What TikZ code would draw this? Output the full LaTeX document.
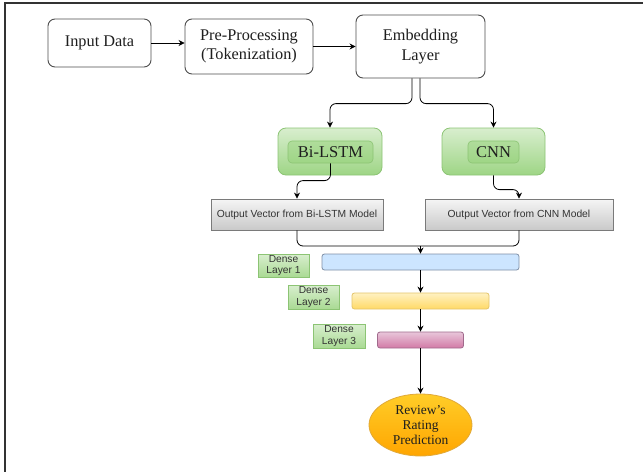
\documentclass[tikz,border=0pt]{standalone}
\usepackage{fontspec}
\setmainfont{Liberation Serif}
\newfontfamily\labelsans{Liberation Sans}
\usetikzlibrary{arrows.meta,shapes.geometric,calc}

\definecolor{frameline}{HTML}{333333}
\definecolor{boxline}{HTML}{4D4D4D}
\definecolor{greenline}{HTML}{8CC474}
\definecolor{greentop}{HTML}{D8EECE}
\definecolor{greenbot}{HTML}{9ED585}
\definecolor{grayline}{HTML}{7A7A7A}
\definecolor{graytop}{HTML}{F5F5F5}
\definecolor{graybot}{HTML}{C9C9C9}
\definecolor{blueline}{HTML}{7F8FA6}
\definecolor{bluefill}{HTML}{CCE5FF}
\definecolor{yelline}{HTML}{E3C46A}
\definecolor{yeltop}{HTML}{FFF1C2}
\definecolor{yelbot}{HTML}{FFD966}
\definecolor{pinkline}{HTML}{A06A8C}
\definecolor{pinktop}{HTML}{E8C6DA}
\definecolor{pinkbot}{HTML}{D27AA6}
\definecolor{orline}{HTML}{E0A93A}
\definecolor{ortop}{HTML}{FFCD28}
\definecolor{orbot}{HTML}{FFA500}
\definecolor{inktext}{HTML}{1E1E1E}
\definecolor{softtext}{HTML}{333333}

\tikzset{
  flowbox/.style={draw=boxline, line width=0.9pt, rounded corners=7pt, fill=white,
    align=center, text=inktext, inner sep=0pt,
    font=\fontsize{16.3}{19.5}\selectfont},
  greenouter/.style={draw=greenline, line width=0.8pt, rounded corners=8pt,
    top color=greentop, bottom color=greenbot, inner sep=0pt},
  greeninner/.style={draw=greenline, line width=0.6pt, rounded corners=4pt,
    top color=greenbot!70!greentop, bottom color=greenbot, inner sep=0pt,
    text=inktext, font=\fontsize{16.5}{19}\selectfont},
  outbox/.style={draw=grayline, line width=0.8pt, top color=graytop, bottom color=graybot,
    inner sep=0pt, text=softtext, font=\labelsans\fontsize{10.3}{12}\selectfont},
  denselabel/.style={draw=greenline, line width=0.6pt, top color=greentop, bottom color=greenbot!80!greentop,
    inner sep=0pt, align=center, text=softtext, font=\labelsans\fontsize{10.2}{11.7}\selectfont},
  barbox/.style={line width=0.8pt, rounded corners=2.5pt, inner sep=0pt},
  link/.style={draw=black, line width=0.8pt, rounded corners=6pt,
    -{Stealth[length=6pt,width=6pt]}},
  plainlink/.style={draw=black, line width=0.8pt, rounded corners=6pt},
}

\begin{document}
\begin{tikzpicture}[x=1pt,y=-1pt]
\useasboundingbox (0,0) rectangle (643,472);

% page frame (top and left edges)
\draw[frameline, line width=1.3pt] (643,3) -- (5,3) -- (5,472);

% input pipeline
\node[flowbox, minimum width=103pt, minimum height=48pt] (inp) at (99.5,43) {Input Data};
\node[flowbox, minimum width=128pt, minimum height=55pt] (pre) at (249,46.5) {Pre-Processing\\(Tokenization)};
\node[flowbox, minimum width=129pt, minimum height=63pt] (emb) at (420.5,46.5) {Embedding\\Layer};

\draw[link] (inp.east) -- (pre.west |- inp.east);
\draw[link] (pre.east) -- (emb.west |- pre.east);

% model branches
\node[greenouter, minimum width=104pt, minimum height=47pt] (gbl) at (330,151.5) {};
\node[greeninner, minimum width=85pt, minimum height=22pt] (ibl) at (330.5,152) {Bi-LSTM};
\node[greenouter, minimum width=103pt, minimum height=47pt] (gcnn) at (493.5,151.5) {};
\node[greeninner, minimum width=51pt, minimum height=22pt] (icnn) at (493.5,152) {CNN};

\coordinate (embL) at ($(emb.south)+(-8.5,0)$);
\coordinate (embR) at ($(emb.south)+(-0.5,0)$);
\draw[link] (embL) |- ($(gbl.north)+(0,-24)$) -- (gbl.north);
\draw[link] (embR) |- ($(gcnn.north)+(0,-24)$) -- (gcnn.north);

% branch outputs
\node[outbox, minimum width=172pt, minimum height=31pt] (obl) at (297,214.5) {Output Vector from Bi-LSTM Model};
\node[outbox, minimum width=188pt, minimum height=31pt] (ocnn) at (519,214.5) {Output Vector from CNN Model};

\draw[link] (ibl.south) |- ($(obl.north)+(0,-18)$) -- (obl.north);
\draw[link] (gcnn.south) |- ($(ocnn.north)+(0,-9)$) -- (ocnn.north);

% dense stack
\node[barbox, draw=blueline, fill=bluefill, minimum width=197pt, minimum height=16pt] (d1) at (420.5,262) {};
\node[barbox, draw=yelline, top color=yeltop, bottom color=yelbot, minimum width=137pt, minimum height=16pt] (d2) at (420.5,301) {};
\node[barbox, draw=pinkline, top color=pinktop, bottom color=pinkbot, minimum width=86pt, minimum height=16pt] (d3) at (420.5,340) {};

\node[denselabel, minimum width=51pt, minimum height=23pt] (l1) at (283.5,265.5) {Dense\\Layer 1};
\node[denselabel, minimum width=51pt, minimum height=24pt] (l2) at (313.5,297) {Dense\\Layer 2};
\node[denselabel, minimum width=52pt, minimum height=24pt] (l3) at (339,336) {Dense\\Layer 3};

% merge of both branch outputs
\coordinate (merge) at (d1.north |- 0,246);
\draw[plainlink] (obl.south) |- (merge) -| (ocnn.south);
\draw[link] (merge) -- (d1.north);

\draw[link] (d1.south) -- (d2.north);
\draw[link] (d2.south) -- (d3.north);

% prediction
\node[ellipse, draw=orline, line width=0.8pt, top color=ortop, bottom color=orbot,
  minimum width=103pt, minimum height=62pt, inner sep=0pt, align=center, text=inktext,
  font=\fontsize{13.5}{14.7}\selectfont] (pred) at (420.5,425) {Review's\\Rating\\Prediction};
\draw[link] (d3.south) -- (pred.north);
\end{tikzpicture}
\end{document}
